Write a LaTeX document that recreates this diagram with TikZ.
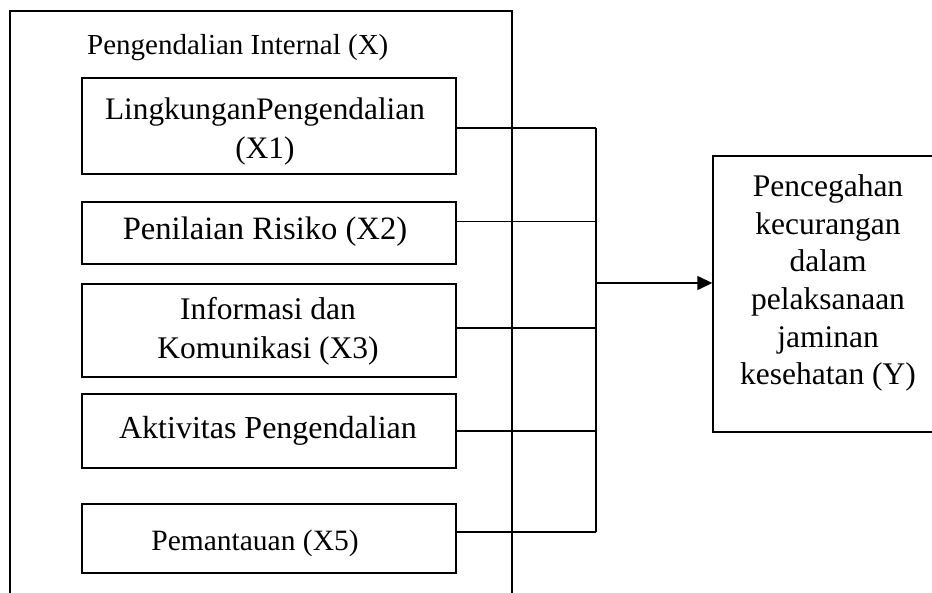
\documentclass[tikz,border=0pt]{standalone}
\usepackage{fontspec}
\setmainfont{Liberation Serif}
\usetikzlibrary{arrows.meta}
\begin{document}
\begin{tikzpicture}[x=1pt,y=-1pt,
  box/.style={draw, line width=1.4pt, minimum width=374pt, inner sep=0pt},
  conn/.style={line width=1.4pt},
  txt/.style={inner sep=0pt, align=center},
]
\useasboundingbox (0,0) rectangle (932,593);
% outer frame
\draw[conn] (10,593) -- (10,11) -- (512,11) -- (512,593);
\node[anchor=base west, inner sep=0pt, font=\fontsize{29}{35}\selectfont] (title) at (87,55) {Pengendalian Internal (X)};
% boxes
\node[box, minimum height=96pt] (b1) at (269,126) {};
\node[box, minimum height=62pt] (b2) at (269,233) {};
\node[box, minimum height=93pt] (b3) at (269,330.5) {};
\node[box, minimum height=74pt] (b4) at (269,431) {};
\node[box, minimum height=69pt] (b5) at (269,538.5) {};
\node[txt, font=\fontsize{31.3}{39}\selectfont] (t1) at (265,131) {LingkunganPengendalian\\(X1)};
\node[txt, font=\fontsize{32.6}{38}\selectfont] (t2) at (265,232) {Penilaian Risiko (X2)};
\node[txt, font=\fontsize{31.5}{39}\selectfont] (t3) at (268,331) {Informasi dan\\Komunikasi (X3)};
\node[txt, font=\fontsize{32}{38}\selectfont] (t4) at (268,431) {Aktivitas Pengendalian};
\node[txt, font=\fontsize{29.5}{38}\selectfont] (t5) at (255,543) {Pemantauan (X5)};
% target
\node[draw, line width=1.4pt, minimum width=230pt, minimum height=276pt, inner sep=0pt] (Y) at (828,294) {};
\node[txt, font=\fontsize{31.5}{37.7}\selectfont] (Ytext) at (828,283) {Pencegahan\\kecurangan\\dalam\\pelaksanaan\\jaminan\\kesehatan (Y)};
% junction points
\coordinate (j1) at (596,128);
\coordinate (j2) at (596,221.5);
\coordinate (j3) at (596,328);
\coordinate (j4) at (596,431);
\coordinate (j5) at (596,532);
\coordinate (ja) at (596,283);
\draw[conn] (b1.east |- j1) -- (j1);
\draw[conn] (b2.east |- j2) -- (j2);
\draw[conn] (b3.east |- j3) -- (j3);
\draw[conn] (b4.east |- j4) -- (j4);
\draw[conn] (b5.east |- j5) -- (j5);
\draw[conn] (j1) -- (j5);
\draw[conn, -{Triangle[length=15pt,width=14pt]}] (ja) -- (Y.west |- ja);
\end{tikzpicture}
\end{document}
